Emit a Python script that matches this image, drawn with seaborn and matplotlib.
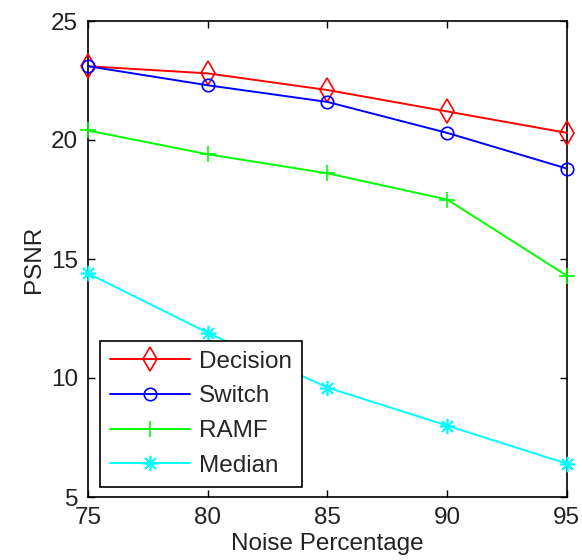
import pandas as pd
import numpy as np
import matplotlib
matplotlib.use("Agg")
import matplotlib.pyplot as plt
import seaborn as sns

noise = [75, 80, 85, 90, 95]
decision = [23.1, 22.8, 22.1, 21.2, 20.3]
switch = [23.1, 22.3, 21.6, 20.3, 18.8]
ramf = [20.4, 19.4, 18.6, 17.5, 14.3]
median = [14.4, 11.9, 9.6, 8.0, 6.4]

# matlab style markers: thin diamond, circle, plus, asterisk
series = [
    ("Decision", decision, "#ff0000", "d", 12),
    ("Switch", switch, "#0000ff", "o", 9),
    ("RAMF", ramf, "#00ff00", "+", 12),
    ("Median", median, "#00ffff", (8, 2, 0), 11),
]

sns.set_style("ticks")
plt.rcParams['font.family'] = ['Liberation Sans', 'DejaVu Sans']

fig = plt.figure(figsize=(5.82, 5.60), dpi=100)
ax = fig.add_axes([0.151, 0.1125, 0.823, 0.85])

for name, vals, col, mk, ms in series:
    df = pd.DataFrame({"Noise": noise, "PSNR": vals})
    sns.lineplot(data=df, x="Noise", y="PSNR", ax=ax, color=col, marker=mk,
                 markersize=ms, mfc="none", mec=col, mew=1.2, lw=1.4,
                 label=name, clip_on=False, zorder=3)

ax.set_xlim(75, 95)
ax.set_ylim(5, 25)
ax.set_xticks([75, 80, 85, 90, 95])
ax.set_yticks([5, 10, 15, 20, 25])
ax.tick_params(direction="in", top=True, right=True, labelsize=17.5, length=5,
               width=1, colors="black", labelcolor="#222222", pad=7)
for s in ax.spines.values():
    s.set_linewidth(1.2)
    s.set_color("black")
ax.set_xlabel("Noise Percentage", fontsize=17.5, color="#222222", labelpad=3)
ax.set_ylabel("PSNR", fontsize=17.5, color="#222222", labelpad=4)

leg = ax.legend(loc="lower left", bbox_to_anchor=(0.025, 0.021), fontsize=17.5,
                frameon=True, fancybox=False, edgecolor="black", framealpha=1,
                handlelength=3.3, handletextpad=0.35, borderpad=0.42,
                borderaxespad=0, labelspacing=0.52)
leg.get_frame().set_linewidth(1.2)
leg.set_zorder(5)

fig.savefig("out.png", dpi=100)
